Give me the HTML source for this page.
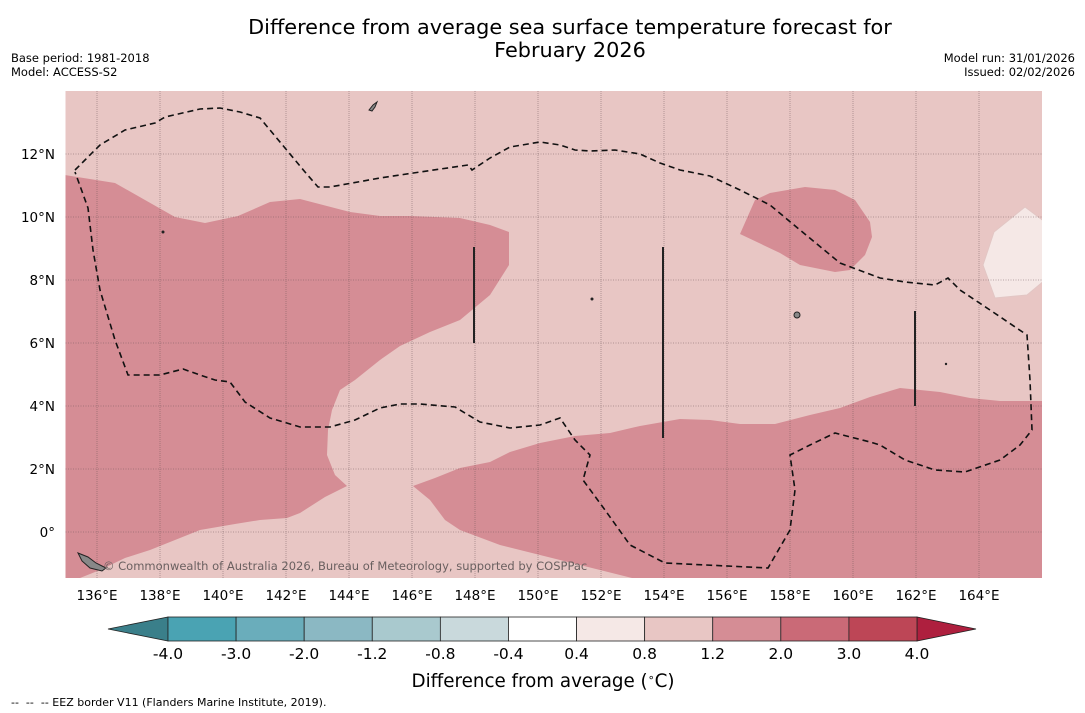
<!DOCTYPE html>
<html><head><meta charset="utf-8">
<style>
body{margin:0;background:#fff;width:1085px;height:713px;overflow:hidden;font-family:"DejaVu Sans","Liberation Sans",sans-serif;}
svg{position:absolute;left:0;top:0}
</style></head><body>
<svg id="chart" width="1085" height="713" viewBox="0 0 1085 713">
<text x="570" y="34" font-size="20.8" text-anchor="middle">Difference from average sea surface temperature forecast for</text>
<text x="570" y="57" font-size="20.8" text-anchor="middle">February 2026</text>
<text x="11" y="62" font-size="11.5">Base period: 1981-2018</text>
<text x="11" y="76" font-size="11.5">Model: ACCESS-S2</text>
<text x="1075" y="62" font-size="11.5" text-anchor="end">Model run: 31/01/2026</text>
<text x="1075" y="76" font-size="11.5" text-anchor="end">Issued: 02/02/2026</text>
<defs><clipPath id="mapclip"><rect x="65.5" y="91" width="976.5" height="487"/></clipPath></defs>
<g id="map" clip-path="url(#mapclip)">
<rect x="65.5" y="91" width="976.5" height="487" fill="#e8c6c4"/>
<polygon fill="#d58d95" points="60,175 65,175 115,183 145,200 175,217 205,223 238,216 270,202 300,199 350,212 380,216 410,216 460,218 490,225 509,232 509,265 490,295 460,320 430,332 400,346 380,360 355,380 340,390 332,410 328,430 327,455 335,475 347,486 325,497 300,513 287,518 260,520 235,524 200,530 175,540 150,550 125,558 100,570 75,580 60,580"/>
<polygon fill="#d58d95" points="413,486 435,478 460,468 490,462 510,452 540,443 575,436 610,433 640,426 680,419 710,420 740,424 775,424 810,415 840,408 870,397 900,388 940,392 970,398 1000,401 1045,401 1045,580 640,580 560,560 500,545 460,530 445,520 430,500"/>
<polygon fill="#d58d95" points="740,234 755,200 770,193 805,187 835,190 855,200 870,222 872,237 865,255 850,270 835,272 800,265 780,253"/>
<polygon fill="#f5e8e6" stroke="#e2c6c4" points="1025,207 1045,222 1045,280 1027,295 995,298 983,265 994,232"/>
<g id="grid"></g>
<polyline fill="none" stroke="#111" stroke-width="1.6" stroke-dasharray="6,4" points="75,170 85,160 100,145 125,130 155,123 165,117 200,109 220,108 240,112 260,118 285,148 305,172 318,187 330,187 380,178 420,172 468,165 472,170 490,158 510,147 540,142 560,145 575,150 590,151 615,150 640,154 660,163 680,170 710,176 740,190 770,205 800,230 840,263 880,278 905,282 935,285 948,278 960,290 990,310 1027,335 1030,380 1032,430 1020,445 1000,460 965,472 935,470 905,460 880,445 870,442 835,433 810,445 790,455 795,490 790,530 768,568 665,563 630,545 605,510 583,480 590,455 575,440 560,418 540,425 510,428 480,422 455,407 420,404 400,404 380,408 355,420 330,427 300,427 270,418 245,402 230,382 215,380 200,375 183,369 160,375 128,375 115,340 100,290 93,250 88,208 75,172"/>
<line x1="474" y1="247" x2="474" y2="343" stroke="#222" stroke-width="2"/>
<line x1="663" y1="247" x2="663" y2="438" stroke="#222" stroke-width="2"/>
<line x1="915" y1="311" x2="915" y2="406" stroke="#222" stroke-width="2"/>
<path d="M369,110 l4,-5 l4,-3 l-2,5 l-3,4z" fill="#888" stroke="#222"/>
<path d="M78,553 l10,4 l8,6 l10,5 l-4,3 l-12,-3 l-8,-7z" fill="#888" stroke="#222"/>
<circle cx="797" cy="315" r="3" fill="#888" stroke="#222"/>
<circle cx="163" cy="232" r="1.5" fill="#222"/>
<circle cx="592" cy="299" r="1.5" fill="#222"/>
<circle cx="946" cy="364" r="1.2" fill="#222"/>
<text x="103" y="570" font-size="11.5" fill="#6a6060">© Commonwealth of Australia 2026, Bureau of Meteorology, supported by COSPPac</text>
</g>
<g id="xticks"></g>
<g id="yticks"></g>
<g id="cbar"></g>
<text x="543" y="687" font-size="18.3" text-anchor="middle">Difference from average (<tspan font-size="11" dy="-6">∘</tspan><tspan dy="6">C)</tspan></text>
<text x="11" y="706" font-size="11" xml:space="preserve">--  --  -- EEZ border V11 (Flanders Marine Institute, 2019).</text>
</svg>
<script>
const lonTicks=[136,138,140,142,144,146,148,150,152,154,156,158,160,162,164];
const latTicks=[12,10,8,6,4,2,0];
const cbLevels=["-4.0","-3.0","-2.0","-1.2","-0.8","-0.4","0.4","0.8","1.2","2.0","3.0","4.0"];
const cbColors=["#4aa3b3","#6aadbb","#8bb8c3","#a9c9ce","#c9d9dc","#ffffff","#f5e8e6","#e8c6c4","#d58d95","#ca6a77","#bd4656"];
const cbUnder="#3a7f8a", cbOver="#ae1f3e";
const NS="http://www.w3.org/2000/svg";
const lonX=l=>65.5+(l-135)*31.5;
const latY=l=>91+(14-l)*31.5;
function mk(tag,attrs,parent){const e=document.createElementNS(NS,tag);for(const k in attrs)e.setAttribute(k,attrs[k]);parent.appendChild(e);return e;}
const grid=document.getElementById('grid'),xt=document.getElementById('xticks'),yt=document.getElementById('yticks'),cb=document.getElementById('cbar');
lonTicks.forEach(l=>{
 const ln=mk('line',{x1:lonX(l),x2:lonX(l),y1:91,y2:578,stroke:'#6a5456','stroke-width':0.8,'stroke-dasharray':'1,1','stroke-opacity':0.55},grid);
 
 
 const t=mk('text',{x:lonX(l),y:600,'font-size':13.5,'text-anchor':'middle'},xt);
 t.textContent=l+'°E';
 
 
});
latTicks.forEach(l=>{
 const ln=mk('line',{x1:65.5,x2:1042,y1:latY(l),y2:latY(l),stroke:'#6a5456','stroke-width':0.8,'stroke-dasharray':'1,1.5','stroke-opacity':0.6},grid);
 
 
 const t=mk('text',{x:55,y:latY(l)+5,'font-size':13.5,'text-anchor':'end'},yt);
 t.textContent=l===0?'0°':l+'°N';
 
 
});
const cx0=168,cx1=917,cy=617,ch=24,bw=(cx1-cx0)/cbColors.length;
const ul=mk('polygon',{points:`${cx0},${cy} ${cx0},${cy+ch} 108,${cy+ch/2}`,fill:cbUnder,stroke:'#222','stroke-width':0.8},cb);


const ov=mk('polygon',{points:`${cx1},${cy} ${cx1},${cy+ch} 976,${cy+ch/2}`,fill:cbOver,stroke:'#222','stroke-width':0.8},cb);


cbColors.forEach((c,i)=>{
 const r=mk('rect',{x:cx0+i*bw,y:cy,width:bw,height:ch,fill:c,stroke:'#222','stroke-width':0.8},cb);
 
 
});
cbLevels.forEach((v,i)=>{
 const t=mk('text',{x:cx0+i*bw,y:659,'font-size':15.5,'text-anchor':'middle'},cb);
 t.textContent=v;
 
 
});
</script>
</body></html>
